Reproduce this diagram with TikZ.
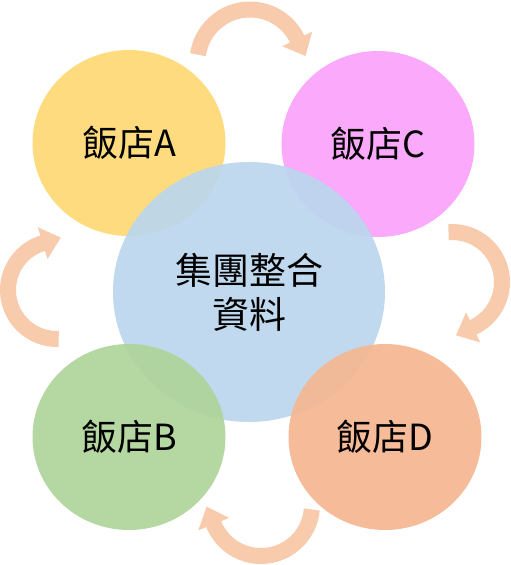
\documentclass[tikz,border=0pt]{standalone}
\usepackage{fontspec}
\setmainfont{Noto Sans CJK TC}
\usepackage{tikz}
\usetikzlibrary{positioning,arrows.meta,shapes.geometric}
\definecolor{hotelA}{HTML}{FED873}
\definecolor{hotelC}{HTML}{FBA2FB}
\definecolor{hotelB}{HTML}{AFD49A}
\definecolor{hotelD}{HTML}{F5B690}
\definecolor{groupblue}{HTML}{BBD6EE}
\definecolor{cyclearrow}{HTML}{F8CBAD}

\begin{document}
\begin{tikzpicture}[x=1pt, y=-1pt,
    hotel/.style={ellipse, minimum width=193pt, minimum height=186pt, inner sep=0pt,
      fill opacity=0.92, text opacity=1, font=\fontsize{36}{40}\selectfont},
    cycle/.style={draw=cyclearrow, line width=16pt,
      -{Triangle[width=32pt,length=19pt]}}]
    \useasboundingbox (0,0) rectangle (511,565);
    % hotels behind the centre
    \node[hotel, fill=hotelA] (ha) at (129,143) {飯店A};
    \node[hotel, fill=hotelC] (hc) at (378,144) {飯店C};
    \node[ellipse, fill=groupblue, fill opacity=0.92, text opacity=1,
          minimum width=272pt, minimum height=260pt, align=center,
          font=\fontsize{37}{44}\selectfont] (grp) at (249,292) {集團整合\\資料};
    % hotels in front
    \node[hotel, fill=hotelB] (hb) at (129,437) {飯店B};
    \node[hotel, fill=hotelD] (hd) at (385,437) {飯店D};
    % cycle arrows
    \coordinate (ctop) at ({250+52.5*cos(188)},{62+52.5*sin(188)});
    \draw[cycle] (ctop) arc[start angle=188, end angle=334, radius=52.5]
      -- ++({-19*sin(334)},{19*cos(334)});
    \coordinate (cright) at ({452+50*cos(266)},{282+50*sin(266)});
    \draw[cycle] (cright) arc[start angle=266, end angle=425, radius=50]
      -- ++({-19*sin(425)},{19*cos(425)});
    \coordinate (cbottom) at ({261+51*cos(5)},{505+51*sin(5)});
    \draw[cycle] (cbottom) arc[start angle=5, end angle=158, radius=51]
      -- ++({-19*sin(158)},{19*cos(158)});
    \coordinate (cleft) at ({57+49*cos(88)},{290+49*sin(88)});
    \draw[cycle] (cleft) arc[start angle=88, end angle=253, radius=49]
      -- ++({-19*sin(253)},{19*cos(253)});
  \end{tikzpicture}
\end{document}
